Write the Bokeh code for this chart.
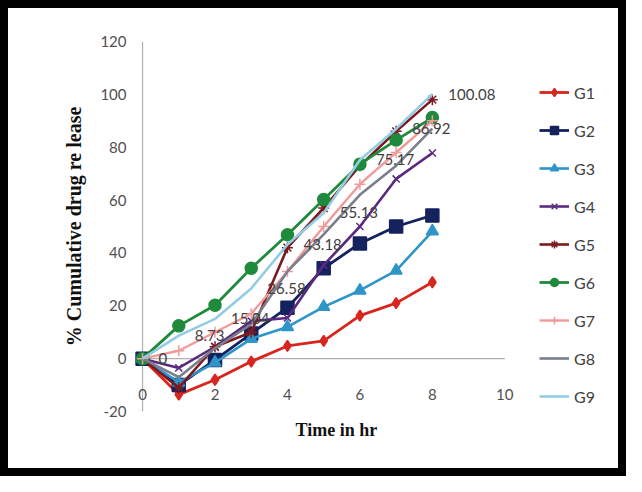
from bokeh.plotting import figure
from bokeh.models import FixedTicker, Legend, LegendItem, PrintfTickFormatter, Title
from bokeh.embed import file_html
from bokeh.resources import INLINE
from bokeh.core.properties import value

# ---- data ----
hours = [0, 1, 2, 3, 4, 5, 6, 7, 8]
G1 = [0, -13.6, -8.0, -1.1, 4.8, 6.7, 16.3, 21.0, 28.9]
G2 = [0, -10.0, -0.5, 9.5, 19.3, 34.2, 43.6, 50.0, 54.2]
G3 = [0, -9.0, -1.5, 7.5, 12.0, 19.6, 25.8, 33.3, 48.2]
G4 = [0, -3.5, 4.5, 14.2, 15.4, 35.4, 50.0, 68.0, 77.8]
G5 = [0, -11.0, 4.5, 10.0, 42.0, 57.0, 73.0, 86.0, 98.0]
G6 = [0, 12.4, 20.2, 34.2, 46.9, 60.2, 73.6, 82.7, 91.2]
G7 = [0, 3.0, 10.0, 17.0, 33.0, 50.0, 66.0, 78.0, 90.0]
G8 = [0, -7.0, 4.0, 13.0, 33.0, 47.0, 62.0, 73.0, 87.0]
G9 = [0, 8.73, 15.04, 26.58, 43.18, 55.13, 75.17, 86.92, 100.08]
G9_labels = ["0", "8.73", "15.04", "26.58", "43.18", "55.13", "75.17", "86.92", "100.08"]

series_names = ["G1", "G2", "G3", "G4", "G5", "G6", "G7", "G8", "G9"]
series_values = [G1, G2, G3, G4, G5, G6, G7, G8, G9]
x_ticks = [0, 2, 4, 6, 8, 10]
x_tick_labels = ["0", "2", "4", "6", "8", "10"]
y_ticks = [-20, 0, 20, 40, 60, 80, 100, 120]

# ---- styles ----
colors = ["#d8261e", "#14225e", "#2f95c9", "#5a2a80", "#7c1a20", "#1f8a3c", "#f29a9a", "#7a7d8c", "#93cde3"]
markers = ["diamond", "square", "triangle", "x", "asterisk", "circle", "cross", None, None]
msizes = [11, 13, 12, 10, 11, 12, 11, 0, 0]
widths = [2.8, 2.8, 2.6, 2.6, 2.6, 2.8, 2.4, 2.6, 2.6]

FONT = "Lato"
AXIS_GREY = "#b0b0b0"
X_LABEL_LEVEL = -13.5  # x tick labels sit inside the plot area, below the zero line

# x range extends right so the legend area lies inside the frame
p = figure(width=626, height=476, x_range=(-0.25, 13.0), y_range=(-20, 120),
           output_backend="svg", toolbar_location=None,
           min_border_left=133, min_border_right=13, min_border_top=41, min_border_bottom=65)
# black screenshot frame drawn over the canvas
p.stylesheets = [
    ":host { position: relative; }",
    ":host::after { content: ''; position: absolute; left: 0; top: 0; right: 0; bottom: 0; "
    "border: 8px solid black; box-sizing: border-box; pointer-events: none; z-index: 100; }",
]
p.outline_line_color = None
p.xgrid.grid_line_color = None
p.ygrid.grid_line_color = None

# y axis (labels only; its line is drawn at x = 0 below)
p.yaxis.ticker = FixedTicker(ticks=y_ticks)
p.yaxis.formatter = PrintfTickFormatter(format="%d")
p.yaxis.axis_line_color = None
p.yaxis.major_tick_line_color = None
p.yaxis.minor_tick_line_color = None
p.yaxis.major_tick_out = 0
p.yaxis.major_tick_in = 0
p.yaxis.major_label_standoff = 7
p.yaxis.major_label_text_font = FONT
p.yaxis.major_label_text_font_size = "15px"
p.yaxis.major_label_text_color = "#505050"
p.yaxis.axis_label = "% Cumulative drug re lease"
p.yaxis.axis_label_text_font = "Liberation Serif"
p.yaxis.axis_label_text_font_style = "bold"
p.yaxis.axis_label_text_font_size = "20px"
p.yaxis.axis_label_text_color = "#111111"
p.yaxis.axis_label_standoff = 12

p.xaxis.visible = False
p.add_layout(Title(text="Time in hr", align="left", offset=162, standoff=13,
                   text_font="Liberation Serif", text_font_style="bold",
                   text_font_size="18px", text_color="#111111"), "below")

# axis lines and x tick labels
p.line([0, 0], [y_ticks[0], y_ticks[-1]], line_color=AXIS_GREY, line_width=1.2)
p.line([x_ticks[0], x_ticks[-1]], [0, 0], line_color=AXIS_GREY, line_width=1.2)
p.text(x_ticks, [X_LABEL_LEVEL] * len(x_ticks), text=x_tick_labels, text_align="center",
       text_baseline="middle", text_font=value(FONT), text_font_size="15px", text_color="#505050")

items = []
for name, vals, c, m, s, w in zip(series_names, series_values, colors, markers, msizes, widths):
    rs = [p.line(hours, vals, line_color=c, line_width=w)]
    if m is not None:
        rs.append(p.scatter(hours, vals, marker=m, size=s, fill_color=c, line_color=c, line_width=1.5))
    items.append(LegendItem(label=name, renderers=rs))

p.text(hours, G9, text=G9_labels, x_offset=16, text_baseline="middle", text_align="left",
       text_font=value(FONT), text_font_size="15px", text_color="#404040")

legend = Legend(items=items, location=(406, 5), orientation="vertical",
                glyph_width=30, glyph_height=20, label_height=20, spacing=18,
                label_standoff=5, padding=0, margin=0,
                border_line_color=None, background_fill_alpha=0,
                label_text_font=FONT, label_text_font_size="16px", label_text_color="#404040")
p.add_layout(legend)

open("out.html", "w").write(file_html(p, INLINE))
